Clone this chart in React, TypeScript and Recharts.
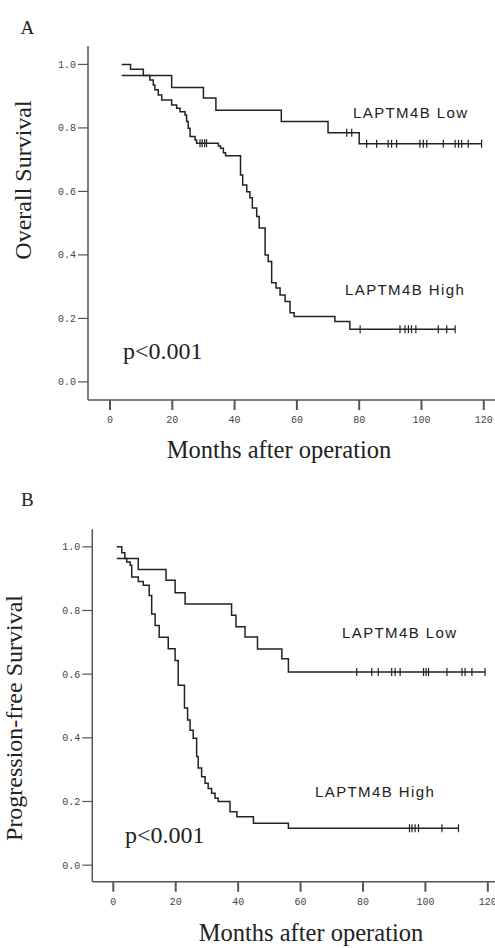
import React from "react";
import { ComposedChart, Line, Scatter, XAxis, YAxis } from "recharts";

// ---- Panel A: overall survival (months, survival proportion) ----
const osHighMonths = [3.75, 6.6, 10.7, 12.8, 13.9, 14.4, 15.5, 16.6, 19.8, 21.4, 22.5, 24.1, 24.6, 25.1, 25.7, 27.3, 27.8, 34.8, 35.5, 36.4, 37.1, 41.9, 42.6, 43.9, 44.9, 45.7, 47.1, 47.9, 49.8, 50.8, 51.9, 53.3, 54.6, 56.2, 57.8, 59.1, 72.2, 77.0, 110.8];
const osHighSurv = [1.0, 0.985, 0.965, 0.951, 0.935, 0.92, 0.904, 0.888, 0.872, 0.862, 0.851, 0.841, 0.82, 0.799, 0.773, 0.762, 0.752, 0.743, 0.736, 0.722, 0.712, 0.652, 0.62, 0.599, 0.58, 0.548, 0.521, 0.485, 0.4, 0.379, 0.312, 0.296, 0.274, 0.253, 0.218, 0.206, 0.19, 0.166, 0.166];
const osHighCensored = [28.9, 29.6, 30.4, 31.0, 80.3, 93.1, 94.7, 95.8, 96.8, 98.2, 105.4, 108.1, 110.8];

const osLowMonths = [3.75, 19.8, 30, 34, 55, 70, 80, 119.3];
const osLowSurv = [0.965, 0.927, 0.894, 0.856, 0.82, 0.785, 0.75, 0.75];
const osLowCensored = [76, 77.6, 82.4, 85.6, 89.3, 90.4, 92, 99.5, 100.6, 101.7, 107, 110.8, 111.9, 112.9, 115, 119.3];

// ---- Panel B: progression-free survival ----
const pfsHighMonths = [1.1, 2.7, 3.7, 4.3, 5.4, 5.9, 8.0, 9.6, 11.5, 12.3, 13.4, 14.7, 17.6, 19.8, 20.8, 22.8, 23.8, 24.6, 25.6, 26.7, 27.2, 28.3, 29.4, 30.4, 31.5, 32.6, 33.6, 37.4, 39.6, 44.9, 56.1, 110.6];
const pfsHighSurv = [1.0, 0.981, 0.963, 0.952, 0.942, 0.905, 0.891, 0.879, 0.847, 0.789, 0.753, 0.716, 0.68, 0.643, 0.565, 0.494, 0.456, 0.424, 0.399, 0.341, 0.305, 0.278, 0.257, 0.241, 0.226, 0.21, 0.2, 0.168, 0.152, 0.132, 0.116, 0.116];
const pfsHighCensored = [94.9, 95.7, 96.7, 97.8, 105.3, 110.6];

const pfsLowMonths = [1.1, 8.0, 16.9, 19.8, 23.0, 37.9, 39.3, 42.2, 46.2, 54.0, 56.1, 119.1];
const pfsLowSurv = [0.963, 0.929, 0.895, 0.856, 0.82, 0.785, 0.749, 0.717, 0.679, 0.648, 0.607, 0.607];
const pfsLowCensored = [78.0, 82.8, 84.9, 89.2, 90.3, 91.9, 99.4, 100.2, 101.0, 106.9, 111.7, 112.7, 114.9, 119.1];

const xTicks = [0, 20, 40, 60, 80, 100, 120];
const yTicks = [0, 0.2, 0.4, 0.6, 0.8, 1.0];

const ink = "#222";
const axisColor = "#555";
const serif = "'Liberation Serif', 'Times New Roman', serif";
const mono = "'Liberation Mono', 'Courier New', monospace";
const sans = "'Liberation Sans', Arial, sans-serif";

const toPoints = (ts: number[], ss: number[]) => ts.map((t, i) => ({ t, s: ss[i] }));

// censor marks sit on the curve level in force at that month
const censorPoints = (ts: number[], ss: number[], cens: number[]) =>
  cens.map((c) => {
    let s = ss[0];
    for (let i = 0; i < ts.length; i++) if (ts[i] <= c) s = ss[i];
    return { t: c, s };
  });

const CensorMark = (props: any) => {
  const { cx, cy } = props;
  if (cx == null || cy == null) return null;
  return <line x1={cx} x2={cx} y1={cy - 4} y2={cy + 4} stroke={ink} strokeWidth={1.2} />;
};

interface PanelProps {
  top: number;
  margin: { top: number; right: number; left: number; bottom: number };
  xDomain: [number, number];
  yDomain: [number, number];
  high: { t: number; s: number }[];
  low: { t: number; s: number }[];
  highCens: { t: number; s: number }[];
  lowCens: { t: number; s: number }[];
}

const Panel: React.FC<PanelProps> = ({ top, margin, xDomain, yDomain, high, low, highCens, lowCens }) => (
  <div style={{ position: "absolute", left: 0, top }}>
    <ComposedChart width={495} height={474} margin={margin}>
      <XAxis
        dataKey="t"
        type="number"
        domain={xDomain}
        ticks={xTicks}
        interval={0}
        allowDataOverflow
        height={30}
        tickSize={10}
        tickMargin={6}
        axisLine={{ stroke: axisColor, strokeWidth: 1.5 }}
        tickLine={{ stroke: axisColor, strokeWidth: 2 }}
        tick={{ fill: "#444", fontSize: 10, fontFamily: mono }}
      />
      <XAxis
        xAxisId="top"
        orientation="top"
        type="number"
        domain={xDomain}
        allowDataOverflow
        height={0}
        tick={false}
        tickLine={false}
        axisLine={{ stroke: axisColor, strokeWidth: 1.5 }}
      />
      <YAxis
        dataKey="s"
        type="number"
        domain={yDomain}
        ticks={yTicks}
        interval={0}
        allowDataOverflow
        width={60}
        tickSize={10}
        tickMargin={2}
        tickFormatter={(v: number) => v.toFixed(1)}
        axisLine={{ stroke: axisColor, strokeWidth: 1.5 }}
        tickLine={{ stroke: axisColor, strokeWidth: 1.2 }}
        tick={{ fill: "#444", fontSize: 10, fontFamily: mono }}
      />
      <Line data={low} dataKey="s" type="stepAfter" stroke={ink} strokeWidth={1.5} dot={false} isAnimationActive={false} />
      <Line data={high} dataKey="s" type="stepAfter" stroke={ink} strokeWidth={1.5} dot={false} isAnimationActive={false} />
      <Scatter data={lowCens} dataKey="s" shape={CensorMark} isAnimationActive={false} />
      <Scatter data={highCens} dataKey="s" shape={CensorMark} isAnimationActive={false} />
    </ComposedChart>
  </div>
);

const App: React.FC = () => {
  return (
    <div style={{ position: "absolute", left: 0, top: 0, width: 495, height: 948, overflow: "hidden", background: "#fff" }}>
      <Panel
        top={0}
        margin={{ top: 46, right: 0, left: 28, bottom: 44 }}
        xDomain={[-7.06, 123.6]}
        yDomain={[-0.057, 1.058]}
        high={toPoints(osHighMonths, osHighSurv)}
        low={toPoints(osLowMonths, osLowSurv)}
        highCens={censorPoints(osHighMonths, osHighSurv, osHighCensored)}
        lowCens={censorPoints(osLowMonths, osLowSurv, osLowCensored)}
      />
      <Panel
        top={474}
        margin={{ top: 55.3, right: 0, left: 32.3, bottom: 36.3 }}
        xDomain={[-6.73, 122.3]}
        yDomain={[-0.052, 1.055]}
        high={toPoints(pfsHighMonths, pfsHighSurv)}
        low={toPoints(pfsLowMonths, pfsLowSurv)}
        highCens={censorPoints(pfsHighMonths, pfsHighSurv, pfsHighCensored)}
        lowCens={censorPoints(pfsLowMonths, pfsLowSurv, pfsLowCensored)}
      />
      <svg width={495} height={948} style={{ position: "absolute", left: 0, top: 0, pointerEvents: "none" }}>
        <g fill={ink} fontFamily={serif}>
          <text x={20.5} y={33.5} fontSize={19}>A</text>
          <text x={21} y={506} fontSize={19}>B</text>
          <text transform="translate(31,180) rotate(-90)" textAnchor="middle" fontSize={24}>Overall Survival</text>
          <text transform="translate(22,718) rotate(-90)" textAnchor="middle" fontSize={24}>Progression-free Survival</text>
          <text x={123} y={359} fontSize={24}>p&lt;0.001</text>
          <text x={125} y={843} fontSize={24}>p&lt;0.001</text>
          <text x={279} y={458} textAnchor="middle" fontSize={24.5}>Months after operation</text>
          <text x={311} y={941} textAnchor="middle" fontSize={24.5}>Months after operation</text>
        </g>
        <g fill={ink} fontFamily={sans} fontSize={15} letterSpacing={1.4}>
          <text x={353} y={117.5}>LAPTM4B Low</text>
          <text x={345} y={294.5}>LAPTM4B High</text>
          <text x={342} y={638}>LAPTM4B Low</text>
          <text x={315} y={797}>LAPTM4B High</text>
        </g>
      </svg>
    </div>
  );
};

export default App;
